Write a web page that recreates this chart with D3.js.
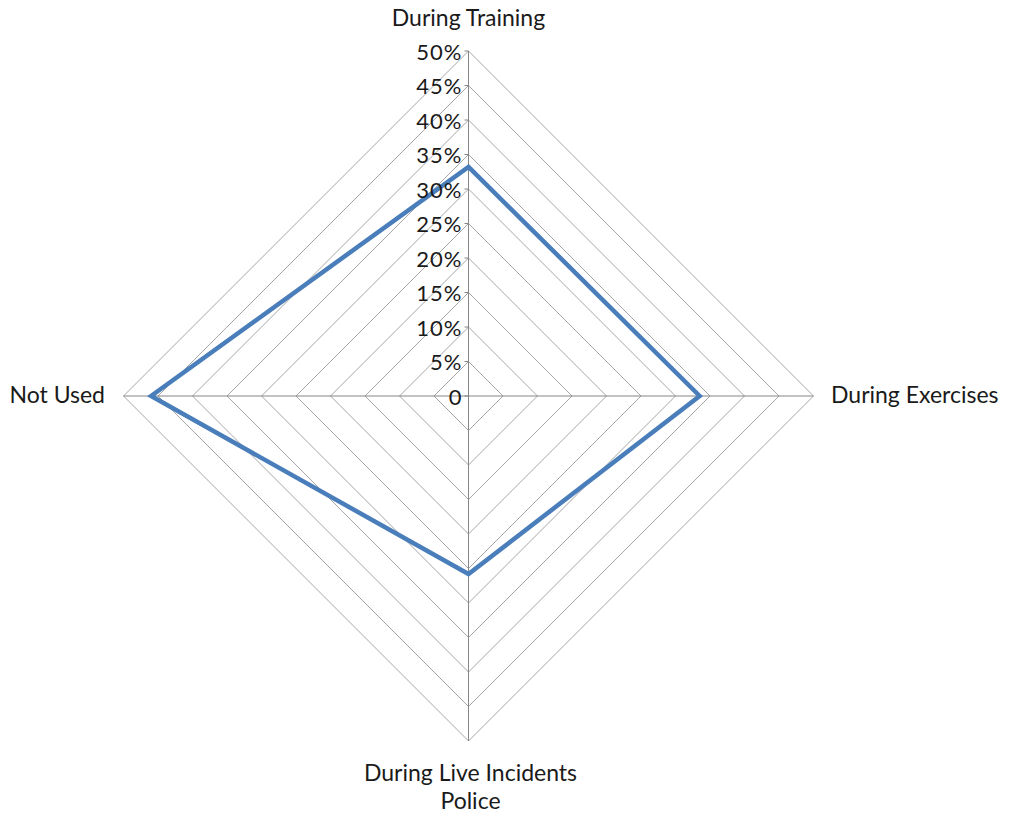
<!DOCTYPE html>
<html><head><meta charset="utf-8">
<script src="https://cdn.jsdelivr.net/npm/d3@7"></script>
<style>body{margin:0;background:#fff}svg{display:block}</style>
</head><body><svg id="c" width="1012" height="816"></svg>
<script>
const categories = ["During Training", "During Exercises", "During Live Incidents Police", "Not Used"];
const values = [33.2, 33.5, 25.8, 46];
const ticks = [0, 5, 10, 15, 20, 25, 30, 35, 40, 45, 50];
const tickLabels = ["0", "5%", "10%", "15%", "20%", "25%", "30%", "35%", "40%", "45%", "50%"];

const svg = d3.select("#c");
const cx = 468.5, cy = 396, R = 345;
const r = d3.scaleLinear().domain([0, 50]).range([0, R]);
const n = categories.length;
const ang = i => -Math.PI / 2 + i * 2 * Math.PI / n;
const pt = (i, v) => [cx + r(v) * Math.cos(ang(i)), cy + r(v) * Math.sin(ang(i))];
const font = "Lato, sans-serif";

svg.append("g").selectAll("path").data(ticks.slice(1)).join("path")
  .attr("d", t => d3.line()(d3.range(n).map(i => pt(i, t))) + "Z")
  .attr("fill", "none").attr("stroke", "#a6a6a6").attr("stroke-width", 1);
svg.append("g").selectAll("line").data(d3.range(n)).join("line")
  .attr("x1", cx).attr("y1", cy)
  .attr("x2", i => pt(i, 50)[0]).attr("y2", i => pt(i, 50)[1])
  .attr("stroke", "#868686").attr("stroke-width", 1);
svg.append("g").selectAll("line").data(ticks).join("line")
  .attr("x1", cx - 4).attr("x2", cx).attr("y1", t => cy - r(t)).attr("y2", t => cy - r(t))
  .attr("stroke", "#868686");

svg.append("path")
  .attr("d", d3.line()(values.map((v, i) => pt(i, v))) + "Z")
  .attr("fill", "none").attr("stroke", "#4a7ebb").attr("stroke-width", 4.5).attr("stroke-linejoin", "miter");

svg.append("g").selectAll("text").data(ticks).join("text")
  .attr("x", cx - 6).attr("y", t => cy - r(t) + 3)
  .attr("text-anchor", "end").attr("dominant-baseline", "middle")
  .attr("font-family", font).attr("font-size", 22).attr("letter-spacing", 1).attr("fill", "#1a1a1a")
  .text((t, i) => tickLabels[i]);

const lab = svg.append("g").attr("font-family", font).attr("font-size", 23).attr("fill", "#1a1a1a");
lab.append("text").attr("x", cx).attr("y", 20).attr("text-anchor", "middle").attr("dominant-baseline", "middle").text(categories[0]);
lab.append("text").attr("x", 831).attr("y", 397).attr("text-anchor", "start").attr("dominant-baseline", "middle").text(categories[1]);
const t2 = lab.append("text").attr("text-anchor", "middle").attr("dominant-baseline", "middle");
t2.append("tspan").attr("x", cx + 2).attr("y", 775).text("During Live Incidents");
t2.append("tspan").attr("x", cx + 2).attr("y", 803).text("Police");
lab.append("text").attr("x", 105).attr("y", 397).attr("text-anchor", "end").attr("dominant-baseline", "middle").text(categories[3]);
</script></body></html>
